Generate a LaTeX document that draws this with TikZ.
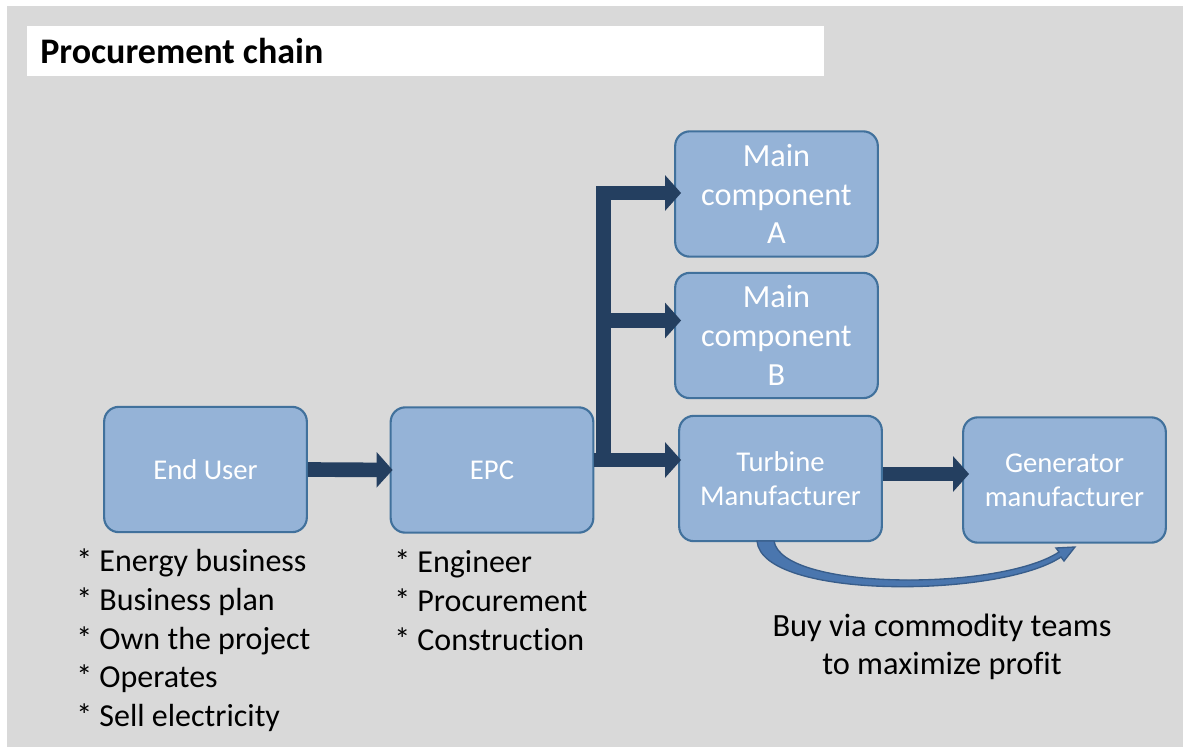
\documentclass[tikz,border=0pt]{standalone}
\usepackage{fontspec}
\setmainfont{Carlito}[Ligatures={NoCommon}]
\usetikzlibrary{arrows.meta,calc}
\definecolor{bgc}{HTML}{D9D9D9}
\definecolor{boxfill}{HTML}{95B3D7}
\definecolor{boxline}{HTML}{41719C}
\definecolor{arrowc}{HTML}{243F60}
\definecolor{curvefill}{HTML}{4A76AE}
\definecolor{curveline}{HTML}{385D8A}
\tikzset{
  box/.style={rounded corners=11pt, fill=boxfill, draw=boxline, line width=1.6pt,
    minimum width=152pt, minimum height=94pt, text=white, align=center, inner sep=2pt,
    font=\fontsize{21.5}{25.5}\selectfont},
  bigbox/.style={box, font=\fontsize{24.2}{29}\selectfont},
  fat/.style={draw=arrowc, line width=11pt, line join=miter,
    -{Triangle[width=26pt,length=12pt]}},
  bullets/.style={anchor=north west, align=left, inner sep=0pt, text=black,
    font=\fontsize{24}{28.9}\selectfont},
}
\begin{document}
\begin{tikzpicture}[x=0.75pt,y=-0.75pt]
\useasboundingbox (0,0) rectangle (1183,747);
\fill[white] (0,0) rectangle (1183,747);
\fill[bgc] (7,6) rectangle (1183,747);
% title
\fill[white] (27,26) rectangle (824,76);
\node[anchor=west, inner sep=0pt, font=\fontsize{27}{30}\selectfont\bfseries] (title) at (40,51) {Procurement chain};
% boxes
\node[box] (enduser) at (205.5,469.5) {End User};
\node[box] (epc) at (492,470) {EPC};
\node[bigbox] (mainA) at (776.5,194) {Main\\component\\A};
\node[bigbox] (mainB) at (776.5,335.5) {Main\\component\\B};
\node[box] (turb) at (780.5,478.5) {Turbine\\Manufacturer};
\node[box] (gen) at (1064.5,480) {Generator\\manufacturer};
% arrows
\draw[fat] (enduser.east) -- ($(epc.west)+(3,0)$);
\coordinate (fk) at ($(epc.east)+(9,-10)$);
\draw[fat] ($(epc.east)+(0,-10)$) -- ($(turb.west)+(3,-18.5)$);
\draw[fat] (fk) |- ($(mainA.west)+(7,-1)$);
\coordinate (bB) at ($(mainB.west)+(7,-15)$);
\draw[fat] ($(fk|-bB)+(7,0)$) -- (bB);
\draw[fat] ($(turb.east)+(0,-4.5)$) -- ($(gen.west)+(7,-6)$);
% curved arrow
\filldraw[fill=curvefill, draw=curveline, line width=1pt]
  (757,541) .. controls (762,600) and (1000,598) .. (1061,557)
  -- (1064,561) -- (1075,547) -- (1056,548) -- (1059,552)
  .. controls (1000,591) and (782,591) .. (774,541) -- cycle;
% texts
\node[bullets] (eubul) at (76,549) {* Energy business\\* Business plan\\* Own the project\\* Operates\\* Sell electricity};
\node[bullets] (epcbul) at (394,550) {* Engineer\\* Procurement\\* Construction};
\node[align=center, inner sep=0pt, font=\fontsize{24.3}{28}\selectfont] (buy) at (942,647) {Buy via commodity teams\\to maximize profit};
\end{tikzpicture}
\end{document}
